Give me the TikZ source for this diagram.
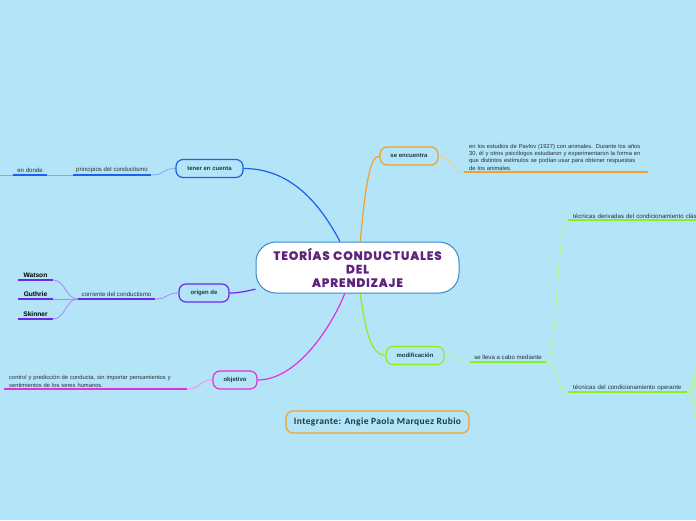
\documentclass[tikz,border=0pt]{standalone}
\usepackage{fontspec}
\setmainfont{Liberation Sans}
\newfontfamily\titlefont{Poppins}[BoldFeatures={FakeBold=1.6,LetterSpace=8}]
\newfontfamily\namefont{Carlito}[BoldFeatures={LetterSpace=4}]
\usetikzlibrary{backgrounds}
\definecolor{bgblue}{RGB}{179,228,247}
\definecolor{coreblue}{RGB}{52,140,205}
\definecolor{titlepurple}{RGB}{95,35,125}
\definecolor{blueA}{RGB}{30,95,240}
\definecolor{purpleA}{RGB}{105,40,235}
\definecolor{pinkA}{RGB}{230,45,225}
\definecolor{orangeA}{RGB}{245,160,40}
\definecolor{greenA}{RGB}{140,240,30}
\definecolor{ink}{RGB}{40,48,52}
\definecolor{nodeink}{RGB}{25,60,65}
\tikzset{
  core/.style={
    rounded corners=20pt,
    draw=coreblue,
    line width=1pt,
    fill=white,
    minimum width=203,
    minimum height=51,
    align=center,
    text=titlepurple,
    font=\titlefont\fontsize{12}{13.5}\selectfont\bfseries
  },
  branch/.style={
    rounded corners=7pt,
    draw=#1,
    line width=1.2pt,
    fill=bgblue,
    minimum height=18,
    inner sep=0pt,
    font=\fontsize{6}{7}\selectfont\bfseries,
    text=nodeink
  },
  topic/.style={anchor=south, inner xsep=0pt, inner ysep=2pt, font=\fontsize{6.1}{7}\selectfont, text=ink},
  person/.style={topic, font=\fontsize{6.6}{8}\selectfont\bfseries, text=black},
  para/.style={topic, anchor=south west, inner xsep=5pt, inner ysep=1.5pt, align=left, font=\fontsize{5.8}{7.3}\selectfont},
  uline/.style={draw=#1, line width=1.8pt},
  limb/.style={draw=#1, line width=1.2pt},
  twig/.style={draw=#1!55!white, line width=0.8pt},
}
\begin{document}
\begin{tikzpicture}[x=1pt,y=-1pt]
\useasboundingbox (0,0) rectangle (696,520);

% main idea and branches
\node[core] (core) at (357.5,267.5) {TEORÍAS CONDUCTUALES\\DEL\\APRENDIZAJE};
\node[branch=blueA, minimum width=67] (tener) at (209.5,168.5) {tener en cuenta};
\node[branch=purpleA, minimum width=50] (origen) at (204,293) {origen de};
\node[branch=pinkA, minimum width=44] (objetivo) at (235,380) {objetivo};
\node[branch=orangeA, minimum width=58] (encuentra) at (409,156) {se encuentra};
\node[branch=greenA, minimum width=58] (modif) at (415,355.5) {modificación};
\node[branch=orangeA, minimum width=183, minimum height=22,
  font=\namefont\fontsize{9.5}{11}\selectfont\bfseries] (integrante) at (377.5,422) {Integrante: Angie Paola Marquez Rubio};

% topics
\node[topic, minimum width=34] (donde) at (30,175) {en donde};
\node[topic, minimum width=78] (principios) at (112,175) {principios del conductismo};
\node[topic, minimum width=77] (corriente) at (116.5,299) {corriente del conductismo};
\node[person, minimum width=35] (watson) at (35.5,280) {Watson};
\node[person, minimum width=35] (guthrie) at (35.5,299) {Guthrie};
\node[person, minimum width=35] (skinner) at (35.5,319) {Skinner};
\node[para, text width=173] (control) at (4,389) {control y predicción de conducta, sin importar pensamientos y\\sentimientos de los seres humanos.};
\node[para, text width=174] (pavlov) at (464,172) {en los estudios de Pavlov (1927) con animales. Durante los años\\30, él y otros psicólogos estudiaron y experimentaron la forma en\\que distintos estímulos se podían usar para obtener respuestas\\de los animales.};
\node[topic, minimum width=76] (mediante) at (508,362) {se lleva a cabo mediante};
\node[para, font=\fontsize{6.1}{7}\selectfont, text width=160] (derivadas) at (568,220) {técnicas derivadas del condicionamiento clásico};
\node[para, font=\fontsize{6.1}{7}\selectfont, text width=109] (operante) at (568,392) {técnicas del condicionamiento operante};

\foreach \n/\c in {donde/blueA, principios/blueA, corriente/purpleA, watson/purpleA,
  guthrie/purpleA, skinner/purpleA, control/pinkA, pavlov/orangeA,
  mediante/greenA, derivadas/greenA, operante/greenA}
  \draw[uline=\c] (\n.south west) -- (\n.south east);

% free ends off the page
\coordinate (offW) at (-12,175);
\coordinate (op1) at (712,300);
\coordinate (op2) at (712,335);
\coordinate (op3) at (712,365);
\coordinate (op4) at (712,440);
\coordinate (op5) at (712,490);

\begin{pgfonlayer}{background}
\fill[bgblue] (0,0) rectangle (696,520);
\draw[limb=blueA] (core.124) .. controls +(-20,-38) and +(47,0) .. (tener.east);
\draw[limb=purpleA] (core.192) .. controls +(-10,2) and +(10,0) .. (origen.east);
\draw[limb=pinkA] (core.244) .. controls +(-15,37) and +(38,0) .. (objetivo.east);
\draw[limb=orangeA] (core.84) .. controls +(5,-53) and +(-10,0) .. (encuentra.west);
\draw[limb=greenA] (core.276) .. controls +(5,37) and +(-14,0) .. (modif.west);

\draw[twig=blueA] (tener.west) .. controls +(-14,0) and +(14,0) .. (principios.south east);
\draw[twig=blueA] (principios.south west) -- (donde.south east);
\draw[twig=blueA] (donde.south west) -- (offW);
\draw[twig=purpleA] (origen.west) .. controls +(-14,0) and +(14,0) .. (corriente.south east);
\foreach \p in {watson,guthrie,skinner}
  \draw[twig=purpleA] (corriente.south west) .. controls +(-12,0) and +(12,0) .. (\p.south east);
\draw[twig=pinkA] (objetivo.west) .. controls +(-14,0) and +(14,0) .. (control.south east);
\draw[twig=orangeA] (encuentra.east) .. controls +(14,0) and +(-14,0) .. (pavlov.south west);
\draw[twig=greenA] (modif.east) .. controls +(14,0) and +(-14,0) .. (mediante.south west);
\draw[twig=greenA] (mediante.south east) .. controls +(12,0) and +(-12,0) .. (derivadas.south west);
\draw[twig=greenA] (mediante.south east) .. controls +(12,0) and +(-12,0) .. (operante.south west);
\foreach \q in {op1,op2,op3,op4,op5}
  \draw[twig=greenA] (operante.south east) .. controls +(9,0) and +(-9,0) .. (\q);
\end{pgfonlayer}

\end{tikzpicture}
\end{document}
